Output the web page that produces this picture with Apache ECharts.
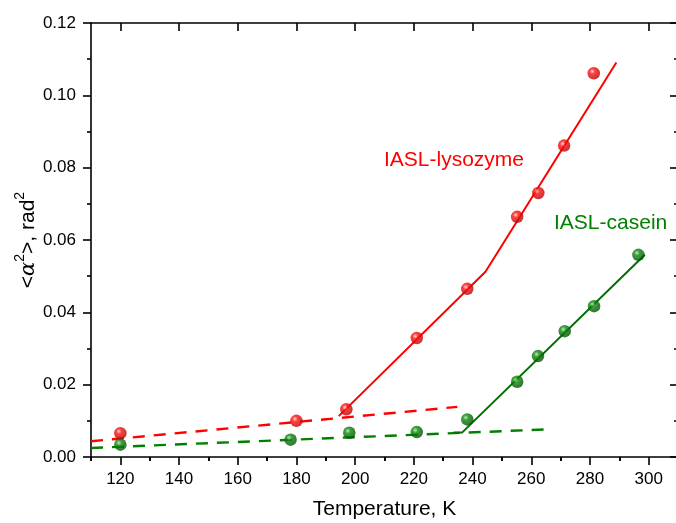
<!DOCTYPE html>
<html>
<head>
<meta charset="utf-8">
<script src="https://cdn.jsdelivr.net/npm/echarts@6/dist/echarts.min.js"></script>
<style>html,body{margin:0;padding:0;background:#fff}#c{width:676px;height:523px}</style>
</head>
<body>
<div id="c"></div>
<script>
// ---- data ----
const xMajorTicks = [120, 140, 160, 180, 200, 220, 240, 260, 280, 300];
const xMinorTicks = [110, 130, 150, 170, 190, 210, 230, 250, 270, 290, 310];

const lysozymeT = [120, 180, 197, 221, 238.2, 255.2, 262.4, 271.2, 281.3];
const lysozymeMsd = [0.0066, 0.0100, 0.0132, 0.0329, 0.0465, 0.0664, 0.0730, 0.0861, 0.1061];

const caseinT = [120, 178, 198, 221, 238.2, 255.2, 262.3, 271.4, 281.4, 296.5];
const caseinMsd = [0.0034, 0.0048, 0.0067, 0.0069, 0.0104, 0.0208, 0.0279, 0.0348, 0.0417, 0.0559];

const lysoFitSolidT = [194.4, 244.4, 289];
const lysoFitSolidV = [0.0113, 0.0512, 0.1091];
const lysoFitDashT = [110, 234.8];
const lysoFitDashV = [0.00435, 0.01385];

const caseFitSolidT = [233.5, 236.5, 298.7];
const caseFitSolidV = [0.0068, 0.0068, 0.0559];
const caseFitDashT = [110, 266];
const caseFitDashV = [0.0025, 0.00767];

const zip = (a, b) => a.map((v, i) => [v, b[i]]);

const FONT = '"Liberation Sans", Arial, sans-serif';
const RED = '#ff0000';
const GREEN = '#008000';

function sphere(light, mid, dark) {
  return {
    type: 'radial', x: 0.38, y: 0.35, r: 0.7,
    colorStops: [
      { offset: 0, color: light },
      { offset: 0.3, color: mid },
      { offset: 1, color: dark }
    ]
  };
}

const axisLine = { show: true, onZero: false, lineStyle: { color: '#000', width: 1.6 } };

const chart = echarts.init(document.getElementById('c'), null, { renderer: 'canvas' });
chart.setOption({
  animation: false,
  backgroundColor: '#fff',
  grid: { left: 91, top: 23, width: 587, height: 434, containLabel: false, outerBoundsMode: 'none' },
  xAxis: [
    { // bottom, major + labels
      type: 'value', min: 110, max: 310, position: 'bottom',
      axisLine: axisLine,
      axisTick: { show: true, inside: false, length: 8, customValues: xMajorTicks, lineStyle: { color: '#000', width: 1.6 } },
      axisLabel: { show: true, customValues: xMajorTicks, margin: 14, color: '#000', fontSize: 17, fontFamily: FONT },
      splitLine: { show: false },
      name: 'Temperature, K', nameLocation: 'middle', nameGap: 42,
      nameTextStyle: { fontSize: 21, color: '#000', fontFamily: FONT }
    },
    { // bottom minor
      type: 'value', min: 110, max: 310, position: 'bottom',
      axisLine: { show: false },
      axisTick: { show: true, inside: false, length: 4, customValues: xMinorTicks, lineStyle: { color: '#000', width: 1.6 } },
      axisLabel: { show: false }, splitLine: { show: false }
    },
    { // top major
      type: 'value', min: 110, max: 310, position: 'top',
      axisLine: axisLine,
      axisTick: { show: true, inside: true, length: 8, customValues: xMajorTicks, lineStyle: { color: '#000', width: 1.6 } },
      axisLabel: { show: false }, splitLine: { show: false }
    },
    { // top minor
      type: 'value', min: 110, max: 310, position: 'top',
      axisLine: { show: false },
      axisTick: { show: true, inside: true, length: 4, customValues: xMinorTicks, lineStyle: { color: '#000', width: 1.6 } },
      axisLabel: { show: false }, splitLine: { show: false }
    }
  ],
  yAxis: [
    {
      type: 'value', min: 0, max: 0.12, interval: 0.02, position: 'left',
      axisLine: axisLine,
      axisTick: { show: true, inside: false, length: 8, lineStyle: { color: '#000', width: 1.6 } },
      minorTick: { show: true, splitNumber: 2, length: 4, lineStyle: { color: '#000', width: 1.6 } },
      axisLabel: { margin: 15, color: '#000', fontSize: 17, fontFamily: FONT, formatter: v => v.toFixed(2) },
      splitLine: { show: false },
      name: '{t|<}{i|α}{s|2}{t|>, rad}{s|2}',
      nameLocation: 'middle', nameRotate: 90, nameGap: 52, nameMoveOverlap: false,
      nameTextStyle: {
        color: '#000', fontFamily: FONT, fontSize: 21,
        rich: {
          t: { fontSize: 21, fontFamily: FONT, color: '#000', verticalAlign: 'bottom', lineHeight: 26 },
          i: { fontSize: 21, fontFamily: '"DejaVu Serif", serif', fontStyle: 'italic', color: '#000', verticalAlign: 'bottom', lineHeight: 26 },
          s: { fontSize: 14, fontFamily: FONT, color: '#000', verticalAlign: 'top', lineHeight: 26 }
        }
      }
    },
    {
      type: 'value', min: 0, max: 0.12, interval: 0.02, position: 'right',
      axisLine: axisLine,
      axisTick: { show: true, inside: true, length: 8, lineStyle: { color: '#000', width: 1.6 } },
      minorTick: { show: true, splitNumber: 2, length: 4, lineStyle: { color: '#000', width: 1.6 } },
      axisLabel: { show: false }, splitLine: { show: false }
    }
  ],
  graphic: [
    { type: 'text', left: 384, top: 150, z: 10,
      style: { text: 'IASL-lysozyme', fill: RED, font: '21px ' + FONT } },
    { type: 'text', left: 554, top: 213, z: 10,
      style: { text: 'IASL-casein', fill: GREEN, font: '21px ' + FONT } }
  ],
  series: [
    { type: 'line', data: zip(lysoFitDashT, lysoFitDashV), symbol: 'none', z: 2,
      lineStyle: { color: RED, width: 2.4, type: [12, 9] } },
    { type: 'line', data: zip(caseFitDashT, caseFitDashV), symbol: 'none', z: 2,
      lineStyle: { color: GREEN, width: 2.4, type: [12, 9] } },
    { type: 'line', data: zip(lysoFitSolidT, lysoFitSolidV), symbol: 'none', z: 2,
      lineStyle: { color: RED, width: 2 } },
    { type: 'line', data: zip(caseFitSolidT, caseFitSolidV), symbol: 'none', z: 2,
      lineStyle: { color: '#007000', width: 2 } },
    { type: 'scatter', data: zip(lysozymeT, lysozymeMsd), symbol: 'circle', symbolSize: 12.5, z: 5,
      itemStyle: { color: sphere('#ffd0d0', '#ff1010', '#b00000') } },
    { type: 'scatter', data: zip(caseinT, caseinMsd), symbol: 'circle', symbolSize: 12.5, z: 5,
      itemStyle: { color: sphere('#b8e0b8', '#0a8a0a', '#004800') } }
  ]
});
</script>
</body>
</html>
